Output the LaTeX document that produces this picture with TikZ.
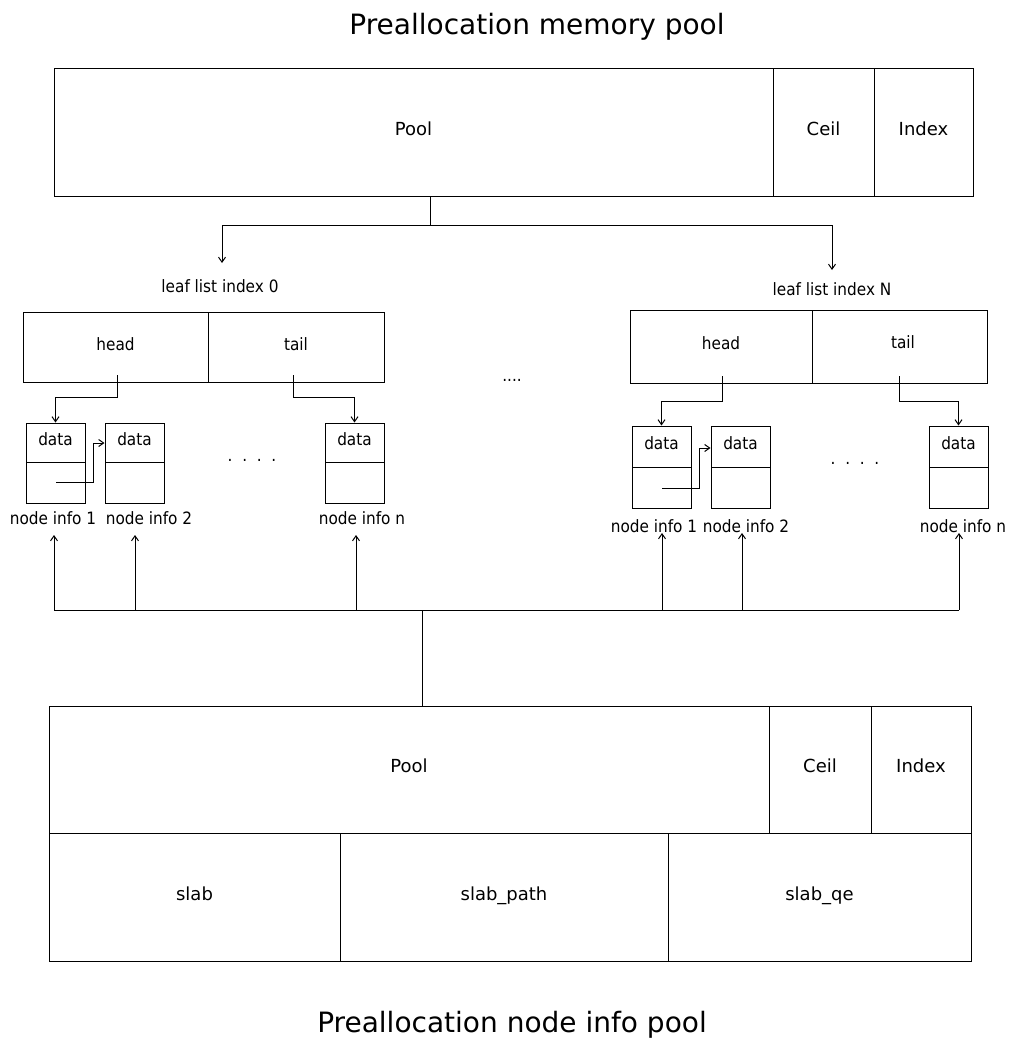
\documentclass[tikz,border=0pt]{standalone}
\usepackage{fontspec}
\setmainfont{DejaVu Sans}
\newfontfamily\condfont[FakeStretch=0.9]{DejaVu Sans}
\usetikzlibrary{arrows.meta}
\newcommand{\bigfnt}{\fontsize{28}{32}\selectfont}
\newcommand{\midfnt}{\fontsize{18}{21}\selectfont}
\newcommand{\smfnt}{\condfont\fontsize{17}{20}\selectfont}
\tikzset{
  cell/.style={draw=black, line width=1pt, inner sep=0pt, anchor=center, text height=1.4ex, text depth=0.2ex},
  lbl/.style={inner sep=0pt, anchor=center},
  conn/.style={draw=black, line width=1pt},
  arr/.style={conn, -{Straight Barb[length=5pt,width=7pt]}},
}
\begin{document}
\begin{tikzpicture}[x=1pt,y=-1pt]
\useasboundingbox (0,0) rectangle (1009,1041);
\fill[white] (0,0) rectangle (1009,1041);

% titles
\node[lbl, font=\bigfnt] (t1) at (537,27) {Preallocation memory pool};
\node[lbl, font=\bigfnt] (t2) at (512,1025) {Preallocation node info pool};

% top pool
\node[cell, minimum width=719pt, minimum height=127pt, font=\midfnt] (tpool) at (413.5,132.5) {Pool};
\node[cell, minimum width=101pt, minimum height=127pt, font=\midfnt] (tceil) at (823.5,132.5) {Ceil};
\node[cell, minimum width=99pt, minimum height=127pt, font=\midfnt] (tindex) at (923.5,132.5) {Index};

% bottom pool
\node[cell, minimum width=720pt, minimum height=127pt, font=\midfnt] (bpool) at (409,769.5) {Pool};
\node[cell, minimum width=102pt, minimum height=127pt, font=\midfnt] (bceil) at (820,769.5) {Ceil};
\node[cell, minimum width=100pt, minimum height=127pt, font=\midfnt] (bindex) at (921,769.5) {Index};
\node[cell, minimum width=291pt, minimum height=128pt, font=\midfnt] (slab) at (194.5,897) {slab};
\node[cell, minimum width=328pt, minimum height=128pt, font=\midfnt] (slabpath) at (504,897) {slab\_path};
\node[cell, minimum width=303pt, minimum height=128pt, font=\midfnt] (slabqe) at (819.5,897) {slab\_qe};

% leaf list labels
\node[lbl, font=\smfnt] (ll0) at (220,286) {leaf list index 0};
\node[lbl, font=\smfnt] (llN) at (832,289) {leaf list index N};

% left head/tail
\node[cell, minimum width=185pt, minimum height=70pt, font=\smfnt] (lhead) at (115.5,347) {head};
\node[cell, minimum width=176pt, minimum height=70pt, font=\smfnt] (ltail) at (296,347) {tail};
% right head/tail
\node[cell, minimum width=182pt, minimum height=73pt, font=\smfnt] (rhead) at (721,346.5) {head};
\node[cell, minimum width=175pt, minimum height=73pt, font=\smfnt] (rtail) at (899.5,346.5) {};
\node[lbl, font=\smfnt] (rtailtxt) at (903,342) {tail};

% left node infos
\node[cell, minimum width=59pt, minimum height=39pt, font=\smfnt] (l1d) at (55.5,442.5) {data};
\node[cell, minimum width=59pt, minimum height=41pt] (l1i) at (55.5,482.5) {};
\node[cell, minimum width=59pt, minimum height=39pt, font=\smfnt] (l2d) at (134.5,442.5) {data};
\node[cell, minimum width=59pt, minimum height=41pt] (l2i) at (134.5,482.5) {};
\node[cell, minimum width=59pt, minimum height=39pt, font=\smfnt] (lnd) at (354.5,442.5) {data};
\node[cell, minimum width=59pt, minimum height=41pt] (lni) at (354.5,482.5) {};
\node[lbl, font=\smfnt] (l1l) at (53,518) {node info 1};
\node[lbl, font=\smfnt] (l2l) at (149,518) {node info 2};
\node[lbl, font=\smfnt] (lnl) at (362,518) {node info n};
\node[lbl, font=\smfnt] (ldots) at (252,460) {.\ \ .\ \ .\ \ .};

% right node infos
\node[cell, minimum width=59pt, minimum height=41pt, font=\smfnt] (r1d) at (661.5,446.5) {data};
\node[cell, minimum width=59pt, minimum height=41pt] (r1i) at (661.5,487.5) {};
\node[cell, minimum width=59pt, minimum height=41pt, font=\smfnt] (r2d) at (740.5,446.5) {data};
\node[cell, minimum width=59pt, minimum height=41pt] (r2i) at (740.5,487.5) {};
\node[cell, minimum width=59pt, minimum height=41pt, font=\smfnt] (rnd) at (958.5,446.5) {data};
\node[cell, minimum width=59pt, minimum height=41pt] (rni) at (958.5,487.5) {};
\node[lbl, font=\smfnt] (r1l) at (654,526) {node info 1};
\node[lbl, font=\smfnt] (r2l) at (746,526) {node info 2};
\node[lbl, font=\smfnt] (rnl) at (963,526) {node info n};
\node[lbl, font=\smfnt] (rdots) at (855,463) {.\ \ .\ \ .\ \ .};

% middle dots
\node[lbl, font=\smfnt] (mdots) at (512,380) {....};

% top fan-out
\coordinate (tsplit) at (430,225);
\draw[conn] (tpool.south -| tsplit) -- (tsplit);
\draw[arr] (tsplit) -| (222,263);
\draw[arr] (tsplit) -| (832,270);

% left head / tail links
\coordinate (lh0) at (117,375);
\coordinate (lt0) at (293,375);
\draw[arr] (lh0) -- (117,397) -| (l1d.north);
\draw[arr] (lt0) -- (293,397) -| (lnd.north);
\draw[arr] (56,482) -- (93,482) -- (93,443) -- (l2d.west |- 0,443);

% right head / tail links
\coordinate (rh0) at (722,376);
\coordinate (rt0) at (899,376);
\draw[arr] (rh0) -- (722,401) -| (r1d.north);
\draw[arr] (rt0) -- (899,401) -| (rnd.north);
\draw[arr] (662,488) -- (699,488) -- (699,448) -- (r2d.west |- 0,448);

% bottom collector
\coordinate (bsplit) at (422,610);
\draw[conn] (bpool.north -| bsplit) -- (bsplit);
\draw[conn] (54,610) -- (959,610);
\draw[arr] (54,610) -- (54,535);
\draw[arr] (135,610) -- (135,535);
\draw[arr] (356,610) -- (356,535);
\draw[arr] (662,610) -- (662,533);
\draw[arr] (742,610) -- (742,533);
\draw[arr] (959,610) -- (959,533);
\end{tikzpicture}
\end{document}
